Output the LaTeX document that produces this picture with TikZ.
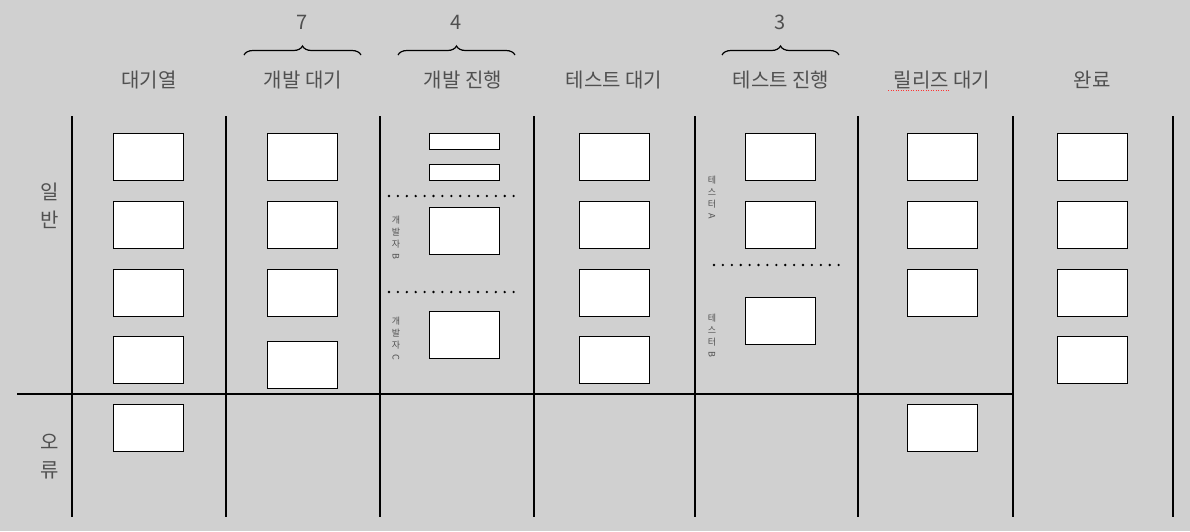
\documentclass[tikz,border=0pt]{standalone}
\usepackage{fontspec}
\usetikzlibrary{decorations.pathreplacing}
\newfontfamily\cjk{Noto Sans CJK KR}
\definecolor{bg}{HTML}{D0D0D0}
\definecolor{txt}{HTML}{505050}
\newcommand{\rl}[1]{\rotatebox[origin=c]{-90}{#1}}
\tikzset{
  card/.style={draw=black, fill=white, line width=1pt, minimum width=70pt, minimum height=47pt, inner sep=0pt},
  bar/.style={draw=black, fill=white, line width=1pt, minimum width=70pt, minimum height=16pt, inner sep=0pt},
  head/.style={text=txt, font=\cjk\fontsize{20}{22}\selectfont},
  num/.style={text=txt, font=\cjk\fontsize{20}{22}\selectfont},
  rowlab/.style={text=txt, align=center, font=\cjk\fontsize{20}{28}\selectfont},
  vlab/.style={text=txt, align=center, font=\cjk\fontsize{9}{12}\selectfont, inner sep=0pt},
  divline/.style={line width=2pt, black},
  dots/.style={line width=2.6pt, line cap=round, dash pattern=on 0pt off 8.9pt},
  brc/.style={decorate, decoration={brace, amplitude=9pt}, line width=1.2pt}
}
\begin{document}
\begin{tikzpicture}[x=1pt, y=-1pt]
\useasboundingbox (0,0) rectangle (1190,531);
\fill[bg] (0,0) rectangle (1190,531);
% column lines
\foreach \n/\x in {v1/72, v2/226, v3/380, v4/534, v5/695, v6/858, v7/1013, v8/1173} {
  \coordinate (\n t) at (\x,116);
  \coordinate (\n b) at (\x,517);
  \draw[divline] (\n t) -- (\n b);
}
\coordinate (hl) at (17,394);
\coordinate (hr) at (1013,394);
\draw[divline] (hl) -- (hr);
% headers
\node[head] (h1) at (149,80) {대기열};
\node[head] (h2) at (303,80) {개발 대기};
\node[head] (h3) at (463,80) {개발 진행};
\node[head] (h4) at (614,80) {테스트 대기};
\node[head] (h5) at (781,80) {테스트 진행};
\node[head] (h6) at (942,80) {릴리즈 대기};
\node[head] (h7) at (1092,80) {완료};
\coordinate (ul1) at (888,90.5);
\coordinate (ul2) at (950,90.5);
\draw[red!80, line width=1pt, dash pattern=on 1pt off 1.5pt] (ul1) -- (ul2);
% braces and limits
\coordinate (b1l) at (244,55); \coordinate (b1r) at (361,55);
\coordinate (b2l) at (398,55); \coordinate (b2r) at (515,55);
\coordinate (b3l) at (722,55); \coordinate (b3r) at (839,55);
\draw[brc] (b1l) -- (b1r);
\draw[brc] (b2l) -- (b2r);
\draw[brc] (b3l) -- (b3r);
\node[num] (n1) at (302,22) {7};
\node[num] (n2) at (456,22) {4};
\node[num] (n3) at (780,22) {3};
% row labels
\node[rowlab] (r1) at (50,206) {일\\반};
\node[rowlab] (r2) at (50,457) {오\\류};
% column 1
\node[card] (c11) at (148,157) {};
\node[card] (c12) at (148,224.5) {};
\node[card] (c13) at (148,292.5) {};
\node[card] (c14) at (148,360) {};
\node[card] (c15) at (148,427.5) {};
% column 2
\node[card] (c21) at (302,157) {};
\node[card] (c22) at (302,224.5) {};
\node[card] (c23) at (302,292.5) {};
\node[card] (c24) at (302,364.5) {};
% column 3
\node[bar] (c31) at (464,141.5) {};
\node[bar] (c32) at (464,172) {};
\coordinate (d1l) at (389,196); \coordinate (d1r) at (516,196);
\draw[dots] (d1l) -- (d1r);
\node[card] (c33) at (464,230.5) {};
\coordinate (d2l) at (389,292); \coordinate (d2r) at (516,292);
\draw[dots] (d2l) -- (d2r);
\node[card] (c34) at (464,335) {};
\node[vlab] (l31) at (396,238) {개\\발\\자\\\rl{B}};
\node[vlab] (l32) at (396,339) {개\\발\\자\\\rl{C}};
% column 4
\node[card] (c41) at (614.5,157) {};
\node[card] (c42) at (614.5,224.5) {};
\node[card] (c43) at (614.5,292.5) {};
\node[card] (c44) at (614.5,360) {};
% column 5
\node[card] (c51) at (780.5,157) {};
\node[card] (c52) at (780.5,224.5) {};
\coordinate (d3l) at (714,265); \coordinate (d3r) at (840,265);
\draw[dots] (d3l) -- (d3r);
\node[card] (c53) at (780.5,320.5) {};
\node[vlab] (l51) at (712,198) {테\\스\\터\\\rl{A}};
\node[vlab] (l52) at (712,336) {테\\스\\터\\\rl{B}};
% column 6
\node[card] (c61) at (942.5,157) {};
\node[card] (c62) at (942.5,224.5) {};
\node[card] (c63) at (942.5,292.5) {};
\node[card] (c64) at (942.5,427.5) {};
% column 7
\node[card] (c71) at (1092.5,157) {};
\node[card] (c72) at (1092.5,224.5) {};
\node[card] (c73) at (1092.5,292.5) {};
\node[card] (c74) at (1092.5,360) {};
\end{tikzpicture}
\end{document}
